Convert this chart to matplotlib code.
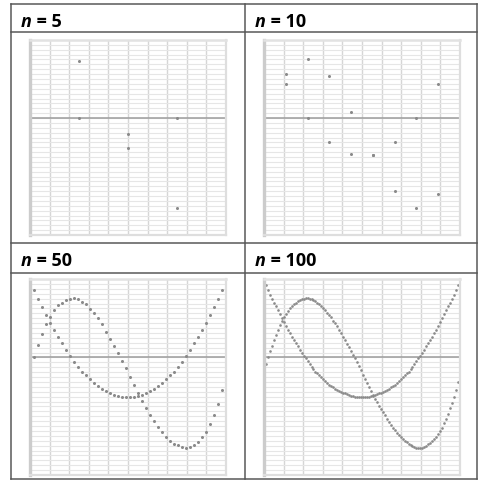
import numpy as np
import matplotlib
matplotlib.use('Agg')
import matplotlib.pyplot as plt
from matplotlib.lines import Line2D

W, H = 479, 482

sizes = [5, 10, 50, 100]

# first series (cubic-like) and second series (parabola-like) per sample size
a5 = [-0.20, 0.73, -0.20, -1.15, -0.20]
b5 = [0.37, 0.00, -0.39, 0.00, 0.37]

a10 = [-0.19, 0.57, 0.76, 0.54, 0.08, -0.47, -0.94, -1.16, -0.97, -0.19]
b10 = [0.68, 0.43, 0.00, -0.31, -0.46, -0.47, -0.31, 0.00, 0.43, 0.70]

a50 = [-0.19, 0.00, 0.16, 0.30, 0.42, 0.52, 0.60, 0.67, 0.70, 0.73,
       0.75, 0.76, 0.74, 0.71, 0.68, 0.62, 0.56, 0.50, 0.42, 0.33,
       0.24, 0.15, 0.06, -0.04, -0.14, -0.25, -0.35, -0.46, -0.55, -0.64,
       -0.73, -0.81, -0.89, -0.95, -1.01, -1.06, -1.10, -1.12, -1.14, -1.15,
       -1.14, -1.12, -1.08, -1.02, -0.95, -0.85, -0.73, -0.59, -0.41, -0.20]
b50 = [0.98, 0.86, 0.75, 0.64, 0.54, 0.44, 0.35, 0.26, 0.18, 0.10,
       0.02, -0.06, -0.12, -0.18, -0.23, -0.28, -0.33, -0.37, -0.40, -0.43,
       -0.46, -0.48, -0.49, -0.50, -0.50, -0.50, -0.50, -0.49, -0.48, -0.46,
       -0.43, -0.40, -0.37, -0.33, -0.28, -0.23, -0.18, -0.12, -0.06, 0.02,
       0.10, 0.18, 0.26, 0.35, 0.44, 0.54, 0.64, 0.75, 0.86, 0.98]

a100 = [-0.19, -0.09, 0.00, 0.08, 0.15, 0.22, 0.29, 0.35, 0.41, 0.46,
        0.51, 0.55, 0.59, 0.63, 0.66, 0.68, 0.70, 0.72, 0.73, 0.74,
        0.75, 0.76, 0.76, 0.75, 0.75, 0.73, 0.72, 0.70, 0.68, 0.66,
        0.63, 0.60, 0.57, 0.54, 0.51, 0.47, 0.44, 0.40, 0.35, 0.31,
        0.26, 0.22, 0.17, 0.13, 0.08, 0.03, -0.01, -0.06, -0.11, -0.16,
        -0.22, -0.27, -0.33, -0.38, -0.43, -0.48, -0.53, -0.57, -0.62, -0.66,
        -0.70, -0.74, -0.79, -0.83, -0.86, -0.90, -0.93, -0.96, -0.99, -1.02,
        -1.04, -1.06, -1.08, -1.10, -1.12, -1.13, -1.14, -1.15, -1.15, -1.15,
        -1.15, -1.14, -1.13, -1.11, -1.09, -1.07, -1.04, -1.01, -0.98, -0.94,
        -0.90, -0.84, -0.78, -0.72, -0.65, -0.58, -0.50, -0.41, -0.31, -0.20]
b100 = [0.98, 0.92, 0.86, 0.80, 0.75, 0.70, 0.65, 0.60, 0.55, 0.50,
        0.45, 0.40, 0.35, 0.31, 0.26, 0.22, 0.18, 0.14, 0.10, 0.06,
        0.02, -0.01, -0.05, -0.08, -0.12, -0.15, -0.18, -0.20, -0.23, -0.25,
        -0.28, -0.30, -0.33, -0.35, -0.37, -0.38, -0.40, -0.41, -0.43, -0.44,
        -0.45, -0.46, -0.47, -0.48, -0.49, -0.49, -0.50, -0.50, -0.50, -0.50,
        -0.50, -0.50, -0.50, -0.50, -0.49, -0.49, -0.48, -0.47, -0.46, -0.45,
        -0.44, -0.43, -0.41, -0.40, -0.38, -0.37, -0.35, -0.33, -0.30, -0.28,
        -0.25, -0.23, -0.20, -0.18, -0.15, -0.12, -0.08, -0.05, -0.01, 0.02,
        0.06, 0.10, 0.14, 0.18, 0.22, 0.26, 0.31, 0.35, 0.40, 0.45,
        0.50, 0.55, 0.60, 0.65, 0.70, 0.75, 0.80, 0.86, 0.92, 0.98]

series = {5: (a5, b5), 10: (a10, b10), 50: (a50, b50), 100: (a100, b100)}

# panel boxes in pixels: left, top, width, height
boxes = {5: (30, 40, 196, 195), 10: (264, 40, 196, 195),
         50: (30, 279, 196, 196), 100: (264, 279, 196, 196)}
# header text anchors in pixels (left, baseline)
headers = {5: (21, 27), 10: (255, 27), 50: (21, 266), 100: (255, 266)}

plt.rcParams['font.family'] = ['Open Sans', 'DejaVu Sans']

fig = plt.figure(figsize=(W / 100, H / 100), dpi=100)


def px_line(x0, y0, x1, y1, lw=1.5, color='#555555'):
    fig.add_artist(Line2D([x0 / W, x1 / W], [1 - y0 / H, 1 - y1 / H],
                          transform=fig.transFigure, lw=lw * 0.72,
                          color=color, solid_capstyle='projecting'))


# table rules
left, right, top, bottom, mid = 10.5, 477, 3.5, 478.5, 245
for y in (top, 32, 243, 273, bottom):
    px_line(left, y, right, y)
for x in (left, mid, right):
    px_line(x, top, x, bottom)

for n in sizes:
    l, t, w, h = boxes[n]
    ax = fig.add_axes([l / W, 1 - (t + h) / H, w / W, h / H])
    xs = np.linspace(0, 1, n)
    a, b = series[n]
    ax.set_xlim(0, 1)
    ax.set_ylim(-1.5, 1.0)
    ax.set_xticks(np.arange(0, 1.01, 0.1))
    ax.set_yticks(np.arange(-1.5, 1.01, 0.0625))
    ax.tick_params(length=0, labelleft=False, labelbottom=False)
    ax.grid(True, axis='x', color='#d6d6d6', lw=1.0)
    ax.grid(True, axis='y', color='#e6e6e6', lw=0.8)
    ax.set_axisbelow(True)
    for side in ('right', 'bottom'):
        ax.spines[side].set_color('#dedede')
        ax.spines[side].set_linewidth(1.6)
    ax.spines['left'].set_color('#cccccc')
    ax.spines['left'].set_linewidth(2.4)
    ax.spines['top'].set_color('#e2e2e2')
    ax.spines['top'].set_linewidth(1.8)
    for sp in ax.spines.values():
        sp.set_zorder(4)
    ax.axhline(0, color='#9c9c9c', lw=1.1, zorder=1)
    ms = 2.2 if n < 100 else 1.9
    for ys in (a, b):
        ax.plot(xs, ys, 'o', ms=ms, color='#8a8a8a', mec='none', zorder=3)

    hx, hy = headers[n]
    t1 = fig.text(hx / W, 1 - hy / H, 'n', fontsize=13, fontweight='bold',
                  fontstyle='italic', va='baseline', ha='left')
    plt.annotate(' = ' + str(n), xy=(1, 0), xycoords=t1,
                 fontsize=13, fontweight='bold', va='bottom', ha='left',
                 annotation_clip=False)

fig.savefig('out.png', dpi=100)
